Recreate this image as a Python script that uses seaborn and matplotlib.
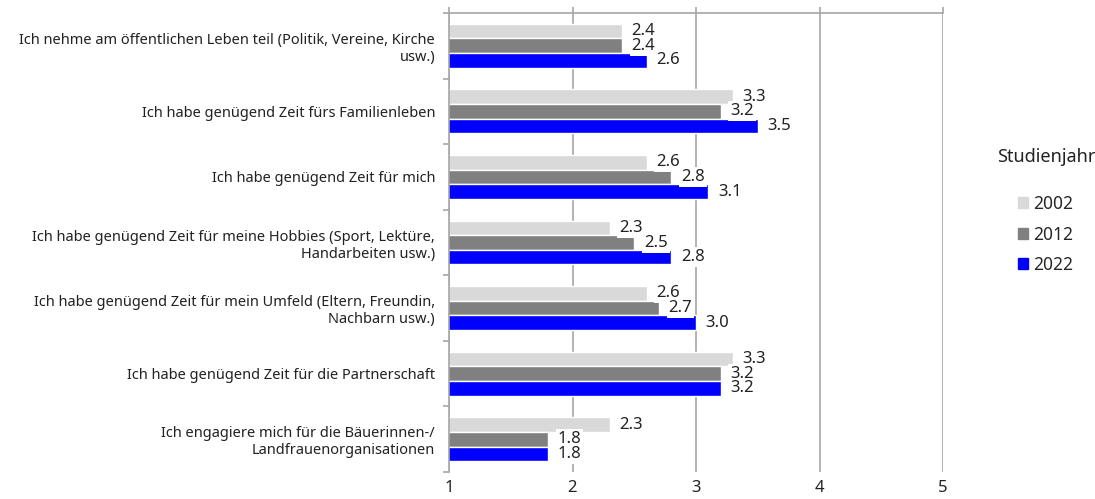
import matplotlib
matplotlib.use("Agg")
import matplotlib.pyplot as plt
import seaborn as sns
import pandas as pd
import numpy as np
from matplotlib.ticker import FixedLocator

categories = [
    "Ich nehme am öffentlichen Leben teil (Politik, Vereine, Kirche\nusw.)",
    "Ich habe genügend Zeit fürs Familienleben",
    "Ich habe genügend Zeit für mich",
    "Ich habe genügend Zeit für meine Hobbies (Sport, Lektüre,\nHandarbeiten usw.)",
    "Ich habe genügend Zeit für mein Umfeld (Eltern, Freundin,\nNachbarn usw.)",
    "Ich habe genügend Zeit für die Partnerschaft",
    "Ich engagiere mich für die Bäuerinnen-/\nLandfrauenorganisationen",
]
years = ["2002", "2012", "2022"]
values_2002 = [2.4, 3.3, 2.6, 2.3, 2.6, 3.3, 2.3]
values_2012 = [2.4, 3.2, 2.8, 2.5, 2.7, 3.2, 1.8]
values_2022 = [2.6, 3.5, 3.1, 2.8, 3.0, 3.2, 1.8]
colors = ["#D9D9D9", "#808080", "#0000FF"]
x_ticks = [1, 2, 3, 4, 5]

df = pd.DataFrame({
    "Kategorie": categories * 3,
    "Studienjahr": [y for y in years for _ in categories],
    "Wert": values_2002 + values_2012 + values_2022,
})

sns.set_theme(style="white")
plt.rcParams["font.family"] = ["Noto Sans", "DejaVu Sans"]

fig = plt.figure(figsize=(10.95, 4.99), dpi=100)
ax = fig.add_axes([449 / 1095, 1 - 472 / 499, (943 - 449) / 1095, (472 - 13) / 499])

sns.barplot(data=df, y="Kategorie", x="Wert", hue="Studienjahr",
            order=categories, hue_order=years, palette=colors,
            width=0.67, gap=0, saturation=1, ax=ax, legend=False, orient="h")

ax.set_xlim(1, 5)
ax.set_ylim(len(categories) - 0.5, -0.5)
ax.set_xlabel("")
ax.set_ylabel("")

gray = "#A6A6A6"
for s in ["right", "bottom"]:
    ax.spines[s].set_visible(False)
for s in ["top", "left"]:
    ax.spines[s].set_color(gray)
    ax.spines[s].set_linewidth(1.2)

ax.set_xticks(x_ticks)
ax.set_xticklabels([str(t) for t in x_ticks], fontsize=12, color="#222222")
ax.xaxis.grid(True, color=gray, linewidth=1.2)
ax.set_axisbelow(True)
ax.tick_params(axis="x", top=True, bottom=False, labeltop=False, labelbottom=True,
               direction="out", length=4, color=gray, width=1.2, pad=2)

ax.tick_params(axis="y", which="major", length=0, labelsize=10.5, labelcolor="#222222", pad=10)
for lbl in ax.get_yticklabels():
    lbl.set_multialignment("right")
ax.yaxis.set_minor_locator(FixedLocator(np.arange(-0.5, len(categories), 1.0)))
ax.tick_params(axis="y", which="minor", left=True, length=4, color=gray, width=1.2)

for cont in ax.containers:
    ax.bar_label(cont, fmt="%.1f", padding=7, fontsize=12, color="#222222",
                 bbox=dict(facecolor="white", edgecolor="none", pad=1.5))

handles = [plt.Rectangle((0, 0), 1, 1, color=c) for c in colors]
fig.legend(handles, years, loc="upper left", bbox_to_anchor=(1018 / 1095, 1 - 195 / 499),
           frameon=False, fontsize=12.5, handlelength=0.6, handleheight=0.6,
           handletextpad=0.3, labelspacing=0.72, borderaxespad=0, borderpad=0)
fig.text(1046 / 1095, 1 - 157 / 499, "Studienjahr", fontsize=13, ha="center", va="center",
         color="#222222")

fig.savefig("out.png", dpi=100)
